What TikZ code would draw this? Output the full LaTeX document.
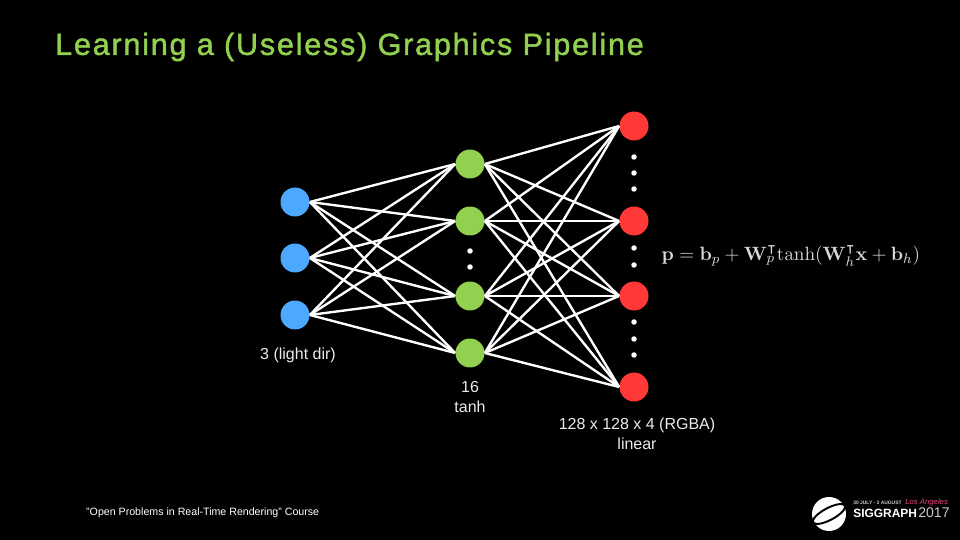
\documentclass[tikz,border=0pt]{standalone}
\usepackage{amsmath}
\usepackage{amssymb}
\usepackage[no-math]{fontspec}
\setmainfont{Liberation Sans}
\newfontfamily\titlefont[LetterSpace=5.8,FakeBold=1.4]{Liberation Sans}
\usepackage{tikz}
\usetikzlibrary{positioning}
\definecolor{titlegreen}{RGB}{146,208,80}
\definecolor{inblue}{RGB}{77,168,255}
\definecolor{outred}{RGB}{255,56,56}
\definecolor{lapink}{RGB}{235,70,125}

\begin{document}
\begin{tikzpicture}[x=0.02cm,y=-0.02cm,font=\footnotesize,text=white,
  neuron/.style={circle,inner sep=0pt,minimum size=0.58cm},
  gap/.style={circle,fill=white,inner sep=0pt,minimum size=0.11cm},
  link/.style={draw=white,line width=1.35pt},
  lbl/.style={align=center,font=\fontsize{9.1}{11.3}\selectfont,text=white!92!black}]
  \fill[black] (0,0) rectangle (960,540);
  \useasboundingbox (0,0) rectangle (960,540);

  \node[anchor=west,text=titlegreen,font=\titlefont\fontsize{17.4}{20}\selectfont] (title) at (49,47)
    {Learning a (Useless) Graphics Pipeline};

  % layers
  \foreach \n/\y in {1/202,2/258,3/315}
    \node[neuron,fill=inblue] (in\n) at (295,\y) {};
  \foreach \n/\y in {1/164,2/221,3/296,4/353}
    \node[neuron,fill=titlegreen] (hid\n) at (470,\y) {};
  \foreach \n/\y in {1/126,2/221,3/296,4/387}
    \node[neuron,fill=outred] (out\n) at (634,\y) {};

  % fully connected
  \foreach \a in {1,2,3}
    \foreach \b in {1,2,3,4}
      \draw[link] (in\a.east) -- (hid\b.west);
  \foreach \a in {1,2,3,4}
    \foreach \b in {1,2,3,4}
      \draw[link] (hid\a.east) -- (out\b.west);

  % elided units
  \foreach \n/\y in {1/251,2/267}
    \node[gap] (hdot\n) at (470,\y) {};
  \foreach \n/\y in {1/157,2/173,3/189,4/248,5/265,6/322,7/339,8/355}
    \node[gap] (odot\n) at (634,\y) {};

  \node[lbl] (inlbl) at (298,355) {3 (light dir)};
  \node[lbl] (hidlbl) at (470,397) {16\\tanh};
  \node[lbl] (outlbl) at (637,434) {128 x 128 x 4 (RGBA)\\linear};

  \node[anchor=west,text=white!85!black,font=\fontsize{11.15}{12}\selectfont] (eqn) at (655.5,256)
    {$\mathbf{p}=\mathbf{b}_p+\mathbf{W}_p^{\intercal}\mathrm{tanh}(\mathbf{W}_h^{\intercal}\mathbf{x}+\mathbf{b}_h)$};

  \node[anchor=west,font=\fontsize{6.05}{7}\selectfont] (course) at (80,513)
    {"Open Problems in Real-Time Rendering" Course};

  % logo
  \node[circle,fill=white,inner sep=0pt,minimum size=0.68cm] (logo) at (829,514) {};
  \draw[black,line width=1.1pt,rotate around={28:(829,514)}] (829,514) ellipse (18 and 6);
  \draw[white,line width=0.7pt,rotate around={28:(829,514)}] (829,514) ellipse (13 and 3);
  \node[anchor=west,inner sep=0pt,font=\bfseries\fontsize{6.8}{8}\selectfont] (sig) at (853,513)
    {SIGGRAPH};
  \node[anchor=west,inner sep=0pt,text=white!80!black,font=\fontsize{8}{10}\selectfont] (year) at (918,513) {2017};
  \node[anchor=west,inner sep=0pt,text=white!80!black,font=\bfseries\fontsize{2.8}{3}\selectfont] (date) at (853,503) {30 JULY - 3 AUGUST};
  \node[anchor=west,inner sep=0pt,text=lapink,font=\itshape\fontsize{4.4}{6}\selectfont] (city) at (905,503) {Los Angeles};
\end{tikzpicture}
\end{document}
